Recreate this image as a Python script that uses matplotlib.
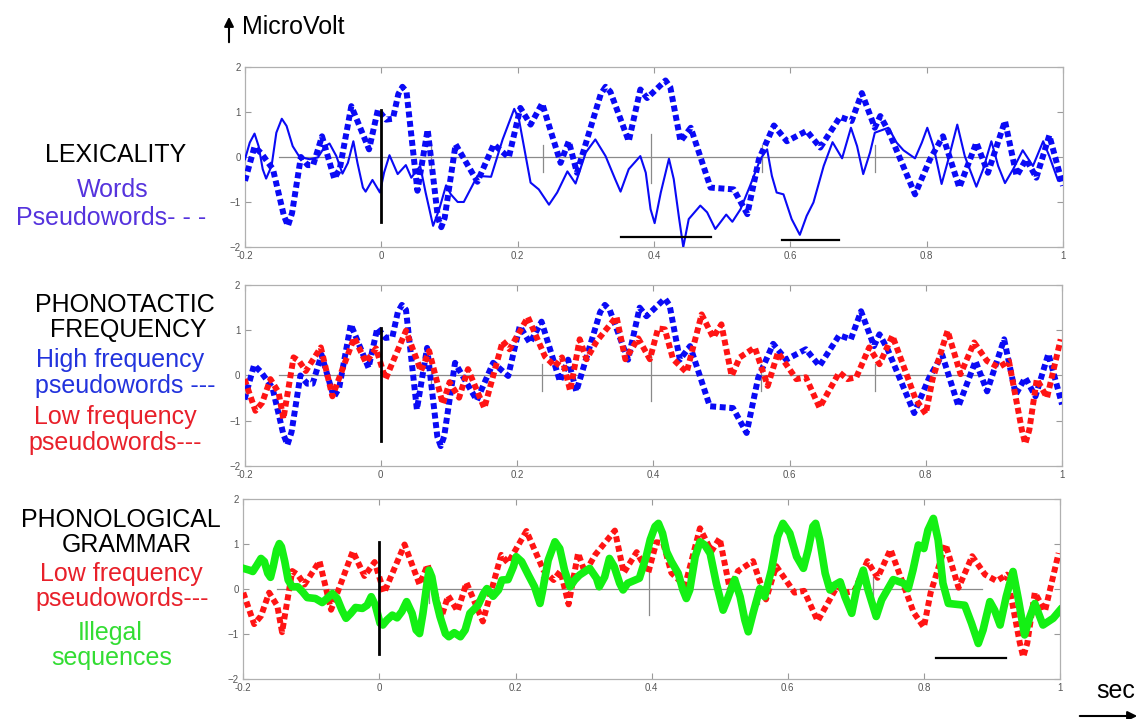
import numpy as np
import matplotlib
matplotlib.use("Agg")
import matplotlib.pyplot as plt

plt.rcParams['font.family'] = ['Liberation Sans', 'DejaVu Sans']

# --- data (time in s, amplitude in microvolt) ---
words_t = [-0.2, -0.193, -0.186, -0.18, -0.174, -0.169, -0.161, -0.154, -0.146, -0.139,
           -0.13, -0.12, -0.105, -0.093, -0.083, -0.076, -0.066, -0.057, -0.049, -0.041,
           -0.035, -0.027, -0.023, -0.013, -0.002, 0.004, 0.012, 0.024, 0.036, 0.044,
           0.057, 0.065, 0.076, 0.085, 0.095, 0.102, 0.112, 0.121, 0.141, 0.161,
           0.178, 0.195, 0.202, 0.219, 0.231, 0.246, 0.258, 0.273, 0.285, 0.3,
           0.314, 0.329, 0.343, 0.351, 0.363, 0.38, 0.388, 0.395, 0.401, 0.41,
           0.422, 0.429, 0.437, 0.443, 0.451, 0.468, 0.478, 0.49, 0.506, 0.515,
           0.527, 0.541, 0.556, 0.566, 0.573, 0.58, 0.59, 0.602, 0.614, 0.624,
           0.634, 0.649, 0.662, 0.676, 0.689, 0.698, 0.707, 0.717, 0.724, 0.744,
           0.756, 0.766, 0.783, 0.793, 0.801, 0.81, 0.822, 0.832, 0.845, 0.856,
           0.873, 0.883, 0.895, 0.905, 0.915, 0.927, 0.941, 0.956, 0.971, 0.98,
           0.993, 1.0]
words_uv = [-0.05, 0.32, 0.52, 0.24, -0.27, -0.48, -0.2, 0.54, 0.85, 0.69,
            0.24, 0.0, -0.05, -0.01, 0.23, 0.3, 0.02, -0.37, -0.13, 0.35,
            -0.13, -0.68, -0.77, -0.51, -0.79, -0.35, 0.04, -0.38, -0.18, -0.46,
            -0.2, -0.79, -1.53, -1.16, -0.63, -0.83, -1.0, -1.0, -0.42, -0.44,
            0.39, 1.07, 0.83, -0.57, -0.72, -1.06, -0.79, -0.32, -0.59, 0.1,
            0.39, 0.02, -0.49, -0.77, -0.27, 0.02, -0.35, -1.16, -1.47, -0.79,
            -0.04, -0.49, -1.38, -2.0, -1.38, -1.08, -1.23, -1.6, -1.28, -1.44,
            -1.16, -0.64, -0.05, 0.17, -0.42, -0.79, -0.83, -1.38, -1.73, -1.31,
            -1.01, -0.2, 0.33, -0.03, 0.65, 0.24, -0.38, 0.1, 0.54, 0.65,
            0.32, 0.15, -0.03, 0.32, 0.65, 0.24, -0.6, -0.05, 0.72, 0.02,
            -0.66, -0.27, 0.35, -0.2, -0.58, -0.27, 0.15, -0.2, 0.35, 0.02,
            -0.53, -0.5]

# pseudowords / high frequency pseudowords (same trace in panels 1 and 2)
hf_t = [-0.2, -0.186, -0.176, -0.159, -0.143, -0.137, -0.131, -0.118, -0.108, -0.1,
        -0.087, -0.069, -0.061, -0.044, -0.018, -0.005, 0.007, 0.017, 0.025, 0.031,
        0.037, 0.053, 0.068, 0.083, 0.088, 0.093, 0.109, 0.141, 0.165, 0.187,
        0.204, 0.219, 0.236, 0.263, 0.275, 0.287, 0.322, 0.329, 0.336, 0.363,
        0.38, 0.39, 0.41, 0.417, 0.424, 0.439, 0.454, 0.483, 0.517, 0.537,
        0.554, 0.576, 0.595, 0.624, 0.644, 0.673, 0.69, 0.705, 0.724, 0.732,
        0.744, 0.783, 0.805, 0.824, 0.848, 0.873, 0.89, 0.915, 0.932, 0.946,
        0.961, 0.98, 1.0]
hf_uv = [-0.53, 0.23, 0.08, -0.27, -1.3, -1.53, -1.25, 0.0, -0.18, -0.18,
         0.46, -0.48, -0.27, 1.13, 0.17, 1.05, 0.83, 0.85, 1.4, 1.56,
         1.45, -0.75, 0.61, -1.35, -1.56, -1.35, 0.28, -0.55, 0.28, -0.01,
         1.09, 0.72, 1.19, -0.13, 0.35, -0.35, 1.4, 1.56, 1.45, 0.35,
         1.5, 1.31, 1.6, 1.7, 1.55, 0.35, 0.65, -0.68, -0.72, -1.27,
         -0.05, 0.7, 0.35, 0.58, 0.21, 0.89, 0.8, 1.42, 0.65, 0.91,
         0.58, -0.83, -0.05, 0.46, -0.68, 0.32, -0.35, 0.8, -0.42, -0.05,
         -0.46, 0.48, -0.64]

# low frequency pseudowords (same trace in panels 2 and 3)
lf_t = [-0.2, -0.184, -0.174, -0.162, -0.15, -0.143, -0.128, -0.12, -0.11, -0.088,
        -0.071, -0.039, -0.022, -0.007, 0.007, 0.037, 0.059, 0.071, 0.091, 0.101,
        0.115, 0.128, 0.152, 0.179, 0.189, 0.216, 0.241, 0.256, 0.266, 0.278,
        0.292, 0.302, 0.317, 0.346, 0.359, 0.378, 0.395, 0.407, 0.417, 0.429,
        0.449, 0.471, 0.488, 0.5, 0.515, 0.527, 0.549, 0.568, 0.583, 0.61,
        0.624, 0.644, 0.673, 0.685, 0.698, 0.717, 0.732, 0.751, 0.785, 0.8,
        0.81, 0.832, 0.851, 0.871, 0.89, 0.907, 0.922, 0.941, 0.946, 0.952,
        0.963, 0.978, 0.998]
lf_uv = [-0.08, -0.78, -0.6, -0.08, -0.375, -0.96, 0.4, 0.32, 0.1, 0.62,
         -0.46, 0.84, 0.29, 0.6, -0.08, 0.99, 0.1, 0.54, -0.63, -0.15,
         -0.49, 0.14, -0.72, 0.76, 0.58, 1.29, 0.42, 0.2, 0.4, -0.34,
         0.8, 0.36, 0.76, 1.3, 0.36, 0.82, 0.36, 1.04, 1.02, 0.36,
         0.07, 1.35, 0.84, 1.13, -0.01, 0.4, 0.62, -0.23, 0.51, -0.08,
         -0.04, -0.71, 0.07, -0.08, -0.04, 0.62, 0.25, 0.88, -0.52, -0.85,
         -0.08, 0.99, 0.03, 0.73, 0.32, 0.18, 0.32, -1.2, -1.51, -1.2,
         -0.08, -0.49, 0.8]

# illegal sequences
ill_t = [-0.2, -0.191, -0.186, -0.18, -0.174, -0.169, -0.164, -0.16, -0.156, -0.151,
         -0.147, -0.144, -0.139, -0.134, -0.128, -0.12, -0.113, -0.106, -0.094, -0.084,
         -0.077, -0.069, -0.062, -0.055, -0.049, -0.042, -0.035, -0.025, -0.018, -0.012,
         -0.006, 0.001, 0.005, 0.011, 0.019, 0.026, 0.033, 0.04, 0.048, 0.054,
         0.059, 0.064, 0.07, 0.073, 0.077, 0.083, 0.089, 0.097, 0.102, 0.11,
         0.119, 0.126, 0.133, 0.145, 0.153, 0.158, 0.167, 0.175, 0.18, 0.189,
         0.197, 0.201, 0.209, 0.219, 0.228, 0.236, 0.24, 0.248, 0.258, 0.265,
         0.272, 0.28, 0.287, 0.294, 0.309, 0.319, 0.323, 0.331, 0.338, 0.345,
         0.353, 0.358, 0.365, 0.382, 0.392, 0.398, 0.405, 0.41, 0.416, 0.422,
         0.429, 0.439, 0.446, 0.451, 0.456, 0.464, 0.471, 0.478, 0.486, 0.495,
         0.505, 0.511, 0.522, 0.53, 0.537, 0.542, 0.549, 0.559, 0.566, 0.576,
         0.585, 0.593, 0.603, 0.613, 0.623, 0.63, 0.637, 0.641, 0.647, 0.655,
         0.662, 0.669, 0.677, 0.684, 0.694, 0.701, 0.711, 0.718, 0.73, 0.738,
         0.755, 0.77, 0.777, 0.784, 0.792, 0.8, 0.806, 0.814, 0.821, 0.828,
         0.836, 0.86, 0.87, 0.88, 0.887, 0.897, 0.904, 0.912, 0.921, 0.931,
         0.939, 0.948, 0.956, 0.963, 0.975, 0.99, 1.0]
ill_uv = [0.46, 0.42, 0.39, 0.53, 0.68, 0.61, 0.35, 0.26, 0.5, 0.87,
          1.01, 0.94, 0.61, 0.2, 0.05, 0.05, -0.06, -0.19, -0.21, -0.3,
          -0.21, -0.1, -0.21, -0.47, -0.65, -0.54, -0.41, -0.43, -0.36, -0.17,
          -0.36, -0.76, -0.8, -0.69, -0.58, -0.64, -0.5, -0.28, -0.54, -0.91,
          -0.99, -0.54, 0.13, 0.42, 0.27, -0.24, -0.61, -0.99, -1.06, -0.97,
          -1.06, -0.91, -0.54, -0.36, -0.1, 0.01, -0.16, -0.02, 0.2, 0.21,
          0.5, 0.72, 0.61, 0.31, 0.05, -0.32, -0.02, 0.64, 1.05, 0.9,
          0.42, 0.05, 0.2, 0.31, 0.46, 0.24, 0.05, 0.27, 0.68, 0.5,
          0.13, -0.02, 0.13, 0.24, 0.72, 1.1, 1.39, 1.46, 1.24, 0.83,
          0.61, 0.35, -0.02, -0.21, -0.02, 0.72, 1.05, 0.98, 0.79, 0.13,
          -0.47, -0.24, 0.21, -0.17, -0.69, -0.95, -0.54, 0.01, -0.17, 0.42,
          1.16, 1.46, 1.24, 0.72, 0.46, 0.87, 1.39, 1.46, 1.09, 0.35,
          -0.02, 0.09, 0.16, -0.17, -0.54, -0.02, 0.42, -0.02, -0.61, -0.24,
          0.21, 0.13, 0.01, 0.42, 0.98, 0.9, 1.31, 1.57, 1.09, 0.13,
          -0.32, -0.36, -0.76, -1.21, -0.91, -0.28, -0.47, -0.8, -0.17, 0.39,
          -0.24, -1.02, -0.61, -0.32, -0.8, -0.65, -0.47]

# gray event markers and significance bars
marks_t = [0.073, 0.237, 0.396, 0.558, 0.725]
marks_top = [0.28, 0.26, 0.5, 0.26, 0.26]
marks_bot = [-0.3, -0.34, -0.57, -0.34, -0.34]
bars = [[(0.351, 0.484, -1.77), (0.588, 0.671, -1.85)],
        [],
        [(0.818, 0.921, -1.54)]]

xticks = [-0.2, 0, 0.2, 0.4, 0.6, 0.8, 1]
xticklabels = ['-0.2', '0', '0.2', '0.4', '0.6', '0.8', '1']
yticks = [-2, -1, 0, 1, 2]

BLUE = '#0a0af5'
RED = '#ff1414'
GREEN = '#14f014'
dots = (0, (1, 0.6))

fig = plt.figure(figsize=(11.4, 7.19), dpi=100)
boxes = [[0.2149, 0.6565, 0.7175, 0.2503],
         [0.2145, 0.3519, 0.7171, 0.2517],
         [0.2134, 0.0556, 0.7164, 0.2503]]
axes = [fig.add_axes(b) for b in boxes]

for i, ax in enumerate(axes):
    ax.set_xlim(-0.2, 1)
    ax.set_ylim(-2, 2)
    ax.set_xticks(xticks)
    ax.set_xticklabels(xticklabels)
    ax.set_yticks(yticks)
    ax.tick_params(direction='in', length=4, width=0.8, top=True, right=True,
                   labelsize=7, labelcolor='#555555', color='#9a9a9a', pad=3)
    for sp in ax.spines.values():
        sp.set_color('#b0b0b0')
        sp.set_linewidth(0.9)
    ax.plot([-0.15, 0.885], [0, 0], color='#8a8a8a', lw=0.9, zorder=1)
    for t, a, b in zip(marks_t, marks_top, marks_bot):
        ax.plot([t, t], [b, a], color='#8a8a8a', lw=0.9, zorder=1)
    ax.plot([0, 0], [-1.45, 1.05], color='black', lw=2, zorder=5)
    for x0, x1, y in bars[i]:
        ax.plot([x0, x1], [y, y], color='black', lw=1.6, zorder=5)

ax1, ax2, ax3 = axes
ax1.plot(words_t, words_uv, color=BLUE, lw=1.5, zorder=3)
ax1.plot(hf_t, hf_uv, color=BLUE, lw=4.3, linestyle=dots, dash_capstyle='butt', zorder=4)

ax2.plot(hf_t, hf_uv, color=BLUE, lw=4.3, linestyle=dots, dash_capstyle='butt', zorder=3)
ax2.plot(lf_t, lf_uv, color=RED, lw=4.3, linestyle=dots, dash_capstyle='butt', zorder=4)

ax3.plot(lf_t, lf_uv, color=RED, lw=4.3, linestyle=dots, dash_capstyle='butt', zorder=3)
ax3.plot(ill_t, ill_uv, color=GREEN, lw=5.5, solid_joinstyle='round', zorder=4)


def label(x, y, s, color='black'):
    fig.text(x / 1140, 1 - y / 719, s, ha='center', va='center', fontsize=18, color=color)


label(116, 155, 'LEXICALITY')
label(113, 190, 'Words', '#5533dd')
label(111, 218, 'Pseudowords- - -', '#5533dd')

label(125, 305, 'PHONOTACTIC')
label(128, 330, 'FREQUENCY')
label(120, 360, 'High frequency', '#2233dd')
label(125, 386, 'pseudowords ---', '#2233dd')
label(115, 417, 'Low frequency', '#e8202a')
label(115, 443, 'pseudowords---', '#e8202a')

label(121, 520, 'PHONOLOGICAL')
label(127, 545, 'GRAMMAR')
label(121, 574, 'Low frequency', '#e8202a')
label(122, 599, 'pseudowords---', '#e8202a')
label(110, 633, 'Illegal', '#33dd33')
label(112, 658, 'sequences', '#33dd33')

fig.text(242 / 1140, 1 - 27 / 719, 'MicroVolt', ha='left', va='center', fontsize=18)
fig.text(1116 / 1140, 1 - 691 / 719, 'sec', ha='center', va='center', fontsize=18)
fig.add_artist(matplotlib.patches.FancyArrowPatch(
    (229 / 1140, 1 - 45 / 719), (229 / 1140, 1 - 14 / 719), transform=fig.transFigure,
    arrowstyle='-|>', mutation_scale=14, color='black', lw=1.5))
fig.add_artist(matplotlib.patches.FancyArrowPatch(
    (1077 / 1140, 1 - 716 / 719), (1140 / 1140, 1 - 716 / 719), transform=fig.transFigure,
    arrowstyle='-|>', mutation_scale=14, color='black', lw=1.5))

fig.savefig('out.png', dpi=100)
